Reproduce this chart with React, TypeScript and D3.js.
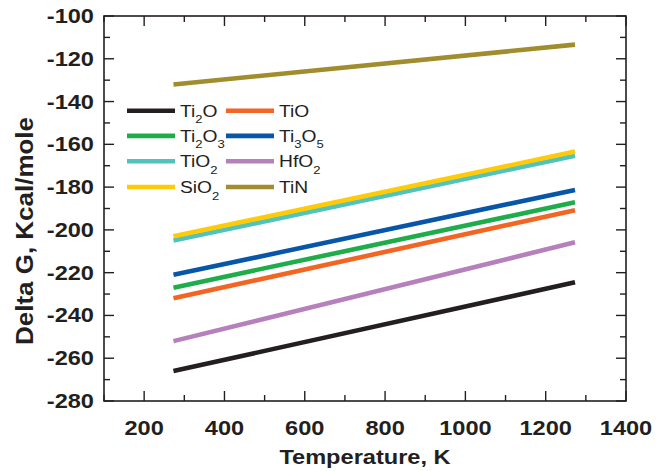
import React from 'react';
import * as d3 from 'd3';

// series, in legend order (digits in names are drawn as subscripts)
const seriesNames = ['Ti2O', 'TiO', 'Ti2O3', 'Ti3O5', 'TiO2', 'HfO2', 'SiO2', 'TiN'];
const seriesColors = ['#231f20', '#f26522', '#1fad4b', '#0756a8', '#4fc4bf', '#b580bb', '#ffcb08', '#a18d2e'];
const temperatures = [273, 1273];
const startValues = [-266, -232, -227, -221, -205, -252, -203, -132];
const endValues = [-224.5, -190.8, -187.1, -181.3, -165.3, -205.8, -163.4, -113.4];

const xTicks = [200, 400, 600, 800, 1000, 1200, 1400];
const yTicks = [-280, -260, -240, -220, -200, -180, -160, -140, -120, -100];

const W = 670;
const H = 471;
const left = 104, right = 626, top = 16, bottom = 401;
const ink = '#231f20';
const font = '"Liberation Sans", Arial, sans-serif';
const stretch = 1.18;

function Label({ x, y, text, size, weight, anchor, sub }) {
  // the reference text is a bit wide, so scale it horizontally
  const parts = sub ? text.split(/(\d+)/).filter(p => p !== '') : [text];
  return (
    <text
      transform={`translate(${x},${y}) scale(${stretch},1)`}
      fontFamily={font}
      fontSize={size}
      fontWeight={weight || 'normal'}
      textAnchor={anchor || 'start'}
      fill={ink}
    >
      {parts.map((p, i) =>
        sub && /^\d+$/.test(p) ? (
          <tspan key={i} fontSize={size * 0.68} dy={size * 0.4}>{p}</tspan>
        ) : (
          <tspan key={i} dy={sub && i > 0 && /^\d+$/.test(parts[i - 1]) ? -size * 0.4 : 0}>{p}</tspan>
        )
      )}
    </text>
  );
}

export default function App() {
  const x = d3.scaleLinear().domain([100, 1400]).range([left, right]);
  const y = d3.scaleLinear().domain([-280, -100]).range([bottom, top]);
  const line = d3.line().x(d => x(d[0])).y(d => y(d[1]));

  const xMinor = d3.range(100, 1401, 100);
  const yMinor = d3.range(-280, -99, 10);

  const legendRows = [110.7, 135.9, 161.3, 187];
  const col1 = { x0: 127, x1: 175, tx: 180 };
  const col2 = { x0: 226, x1: 274, tx: 279 };

  return (
    <svg width={W} height={H} style={{ position: 'absolute', left: 0, top: 0 }}>
      <rect width={W} height={H} fill="#fff" />

      {/* data lines */}
      {seriesNames.map((name, i) => (
        <path
          key={name}
          d={line([[temperatures[0], startValues[i]], [temperatures[1], endValues[i]]])}
          stroke={seriesColors[i]}
          strokeWidth={4.6}
          fill="none"
        />
      ))}

      {/* ticks on all four sides */}
      {xMinor.map(v => {
        const major = v % 200 === 0;
        const len = major ? 10 : 6;
        return (
          <g key={'xt' + v} stroke={ink} strokeWidth={1.4}>
            <line x1={x(v)} x2={x(v)} y1={bottom} y2={bottom - len} />
            <line x1={x(v)} x2={x(v)} y1={top} y2={top + len} />
          </g>
        );
      })}
      {yMinor.map(v => {
        const major = v % 20 === 0;
        const len = major ? 10 : 6;
        return (
          <g key={'yt' + v} stroke={ink} strokeWidth={1.4}>
            <line x1={left} x2={left + len} y1={y(v)} y2={y(v)} />
            <line x1={right} x2={right - len} y1={y(v)} y2={y(v)} />
          </g>
        );
      })}

      <rect x={left} y={top} width={right - left} height={bottom - top} fill="none" stroke={ink} strokeWidth={1.6} />

      {/* tick labels */}
      {xTicks.map(v => (
        <Label key={'xl' + v} x={x(v)} y={435} text={String(v)} size={20} weight="bold" anchor="middle" />
      ))}
      {yTicks.map(v => (
        <Label key={'yl' + v} x={94} y={y(v) + 7} text={String(v)} size={20} weight="bold" anchor="end" />
      ))}

      {/* axis titles */}
      <Label x={(left + right) / 2} y={464} text="Temperature, K" size={20} weight="bold" anchor="middle" />
      <text
        transform={`translate(33,231) rotate(-90)`}
        fontFamily={font}
        fontSize={23}
        fontWeight="bold"
        textAnchor="middle"
        fill={ink}
        textLength={228}
        lengthAdjust="spacingAndGlyphs"
      >
        Delta G, Kcal/mole
      </text>

      {/* legend */}
      {seriesNames.map((name, i) => {
        const col = i % 2 === 0 ? col1 : col2;
        const ry = legendRows[Math.floor(i / 2)];
        return (
          <g key={'lg' + name}>
            <line x1={col.x0} x2={col.x1} y1={ry} y2={ry} stroke={seriesColors[i]} strokeWidth={4.6} />
            <Label x={col.tx} y={ry + 6} text={name} size={16.3} sub />
          </g>
        );
      })}
    </svg>
  );
}
